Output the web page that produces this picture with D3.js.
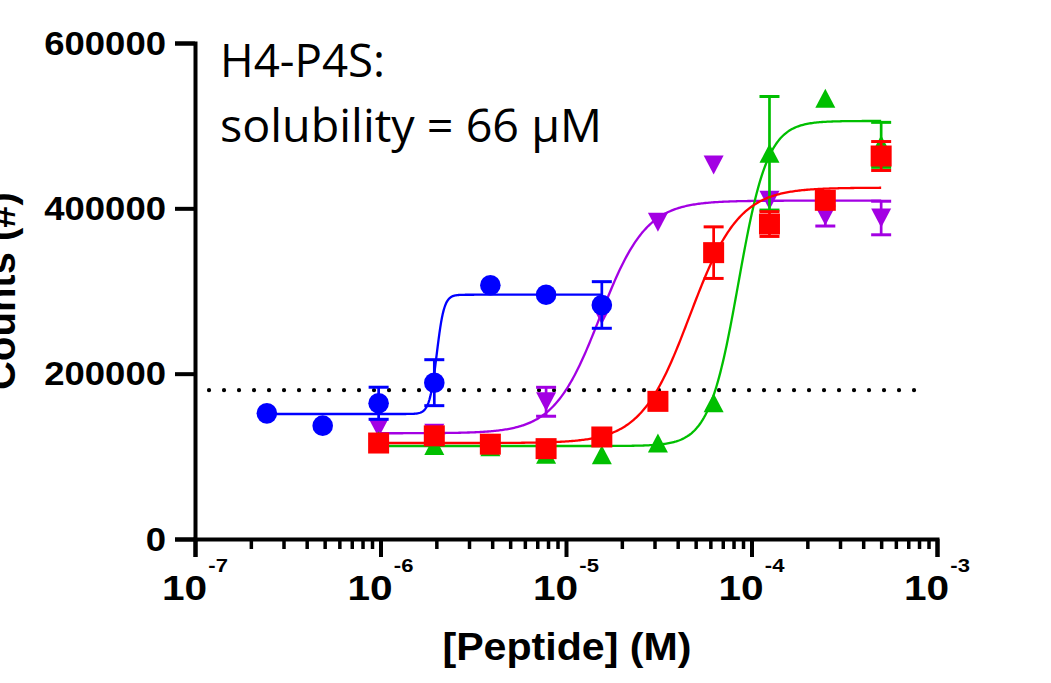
<!DOCTYPE html>
<html>
<head>
<meta charset="utf-8">
<script src="https://cdn.jsdelivr.net/npm/d3@7"></script>
<style>
  html, body { margin: 0; padding: 0; background: #ffffff; }
  svg { display: block; }
</style>
</head>
<body>
<svg id="chart" width="1051" height="683"></svg>
<script>
// Peptide concentrations (M), two-fold dilution series
const concentrations = [2.44e-7, 4.88e-7, 9.77e-7, 1.95e-6, 3.91e-6, 7.81e-6, 1.56e-5, 3.13e-5, 6.25e-5, 1.25e-4, 2.5e-4, 5e-4];

// Mean counts per concentration (null = not measured) and SD (0 = no bar shown)
const blueCounts   = [152000, 137100, 164200, 189100, 306900, 295500, 283100, null, null, null, null, null];
const blueSd       = [0, 0, 19400, 27800, 0, 0, 28200, 0, 0, 0, 0, 0];
const purpleCounts = [null, null, 134300, 128000, 115000, 166000, 271000, 383300, 452400, 409700, 390700, 388300];
const purpleSd     = [0, 0, 0, 0, 0, 17500, 0, 0, 0, 0, 12100, 20300];
const redCounts    = [null, null, 116100, 124800, 114700, 109300, 123400, 166500, 346400, 381000, 409700, 463300];
const redSd        = [0, 0, 0, 0, 0, 0, 0, 0, 31200, 15000, 0, 17500];
const greenCounts  = [null, null, 118900, 113000, 111700, 102500, 101800, 116100, 164700, 466600, 533100, 476800];
const greenSd      = [0, 0, 0, 0, 0, 0, 0, 0, 0, 68700, 0, 27200];

// Four-parameter logistic fits: blue, purple, red, green
const fitBottom  = [151200, 127900, 116100, 112500];
const fitTop     = [295500, 409300, 425000, 505700];
const fitLogEC50 = [-5.697, -4.817, -4.332, -4.071];
const fitHill    = [22, 3.5, 3.3, 5.5];
const fitFrom    = [2.44e-7, 9.77e-7, 9.77e-7, 9.77e-7];
const fitTo      = [1.56e-5, 5e-4, 5e-4, 5e-4];

// Solubility threshold line
const thresholdCounts = 180000;
const thresholdExtent = [1.19e-7, 8.4e-4];

// Axis ticks and labels
const xMajorTicks = [1e-7, 1e-6, 1e-5, 1e-4, 1e-3];
const xExponents = ["-7", "-6", "-5", "-4", "-3"];
const yTicks = [0, 200000, 400000, 600000];
const titleLines = ["H4-P4S:", "solubility = 66 \u03BCM"];
const xTitle = "[Peptide] (M)";
const yTitle = "Counts (#)";

const svg = d3.select("#chart");

const x = d3.scaleLog().domain([1e-7, 1e-3]).range([195, 937]);
const y = d3.scaleLinear().domain([0, 600000]).range([539, 43]);

// Minor ticks 2..9 within each decade
const xMinorTicks = [];
for (let i = 0; i < xMajorTicks.length - 1; i++) {
  for (let m = 2; m <= 9; m++) xMinorTicks.push(xMajorTicks[i] * m);
}

const axisColor = "#000000";

// X axis: major ticks with domain end ticks
const xAxisG = svg.append("g").attr("transform", "translate(0,539)")
  .call(d3.axisBottom(x).tickValues(xMajorTicks).tickSize(18).tickSizeOuter(18).tickFormat(""));
const xMinorG = svg.append("g").attr("transform", "translate(0,539)")
  .call(d3.axisBottom(x).tickValues(xMinorTicks).tickSize(10).tickSizeOuter(0).tickFormat(""));
xMinorG.select(".domain").remove();

// Y axis
const yAxisG = svg.append("g").attr("transform", "translate(195,0)")
  .call(d3.axisLeft(y).tickValues(yTicks).tickSize(20).tickSizeOuter(20).tickFormat(""));

[xAxisG, xMinorG, yAxisG].forEach(g => {
  g.select(".domain").attr("stroke", axisColor).attr("stroke-width", 4)
    .attr("stroke-linejoin", "miter").attr("fill", "none");
  g.selectAll(".tick line").attr("stroke", axisColor).attr("stroke-width", 4);
});
xMinorG.selectAll(".tick line").attr("stroke-width", 3.5);

// Y tick labels
svg.append("g").selectAll("text").data(yTicks).join("text")
  .attr("x", 166)
  .attr("y", d => y(d) + 11.7)
  .attr("text-anchor", "end")
  .attr("font-family", "'Liberation Sans', Arial, sans-serif")
  .attr("font-weight", "bold")
  .attr("font-size", 32.5)
  .attr("textLength", d => String(d).length * 20.3)
  .attr("lengthAdjust", "spacingAndGlyphs")
  .attr("fill", "#000")
  .text(d => String(d));

// X tick labels: 10 with superscript exponent, slightly widened
const xLab = svg.append("g").selectAll("g").data(xMajorTicks).join("g")
  .attr("transform", d => `translate(${x(d)},600) scale(1.16,1)`)
  .append("text")
  .attr("x", 0)
  .attr("y", 0)
  .attr("text-anchor", "middle")
  .attr("font-family", "'Liberation Sans', Arial, sans-serif")
  .attr("font-weight", "bold")
  .attr("font-size", 35)
  .attr("fill", "#000");
xLab.append("tspan").text("10");
xLab.append("tspan").attr("font-size", 19).attr("dx", 1).attr("dy", -28.3).text((d, i) => xExponents[i]);

// Axis titles
svg.append("text")
  .attr("x", 567).attr("y", 660)
  .attr("text-anchor", "middle")
  .attr("font-family", "'Liberation Sans', Arial, sans-serif")
  .attr("font-weight", "bold")
  .attr("font-size", 39)
  .attr("textLength", 249)
  .attr("lengthAdjust", "spacingAndGlyphs")
  .text(xTitle);

svg.append("text")
  .attr("transform", "translate(15,291) rotate(-90)")
  .attr("text-anchor", "middle")
  .attr("font-family", "'Liberation Sans', Arial, sans-serif")
  .attr("font-weight", "bold")
  .attr("font-size", 40)
  .text(yTitle);

// Annotation
svg.append("g").selectAll("text").data(titleLines).join("text")
  .attr("x", 220)
  .attr("y", (d, i) => [77.3, 142][i])
  .attr("font-family", "'Open Sans', sans-serif")
  .attr("font-size", 45)
  .attr("textLength", (d, i) => [165, 382][i])
  .attr("lengthAdjust", "spacingAndGlyphs")
  .attr("fill", "#000")
  .text(d => d);

// Dotted threshold line
svg.append("line")
  .attr("x1", x(thresholdExtent[0])).attr("x2", x(thresholdExtent[1]))
  .attr("y1", y(thresholdCounts)).attr("y2", y(thresholdCounts))
  .attr("stroke", "#000").attr("stroke-width", 4.2)
  .attr("stroke-linecap", "round")
  .attr("stroke-dasharray", "0 15");

// Series definitions, drawn back to front
const series = [
  { counts: purpleCounts, sd: purpleSd, color: "#A300E3", shape: "down", fit: 1 },
  { counts: greenCounts,  sd: greenSd,  color: "#00BF00", shape: "up",   fit: 3 },
  { counts: redCounts,    sd: redSd,    color: "#FF0000", shape: "square", fit: 2 },
  { counts: blueCounts,   sd: blueSd,   color: "#0000FF", shape: "circle", fit: 0 }
];

function logistic(k, c) {
  const lc = Math.log10(c);
  return fitBottom[k] + (fitTop[k] - fitBottom[k]) / (1 + Math.pow(10, fitHill[k] * (fitLogEC50[k] - lc)));
}

const line = d3.line().x(d => x(d[0])).y(d => y(d[1]));

series.forEach(s => {
  const g = svg.append("g");
  const k = s.fit;
  // fitted curve sampled over the measured range
  const lo = Math.log10(fitFrom[k]), hi = Math.log10(fitTo[k]);
  const pts = d3.range(0, 401).map(i => {
    const c = Math.pow(10, lo + (hi - lo) * i / 400);
    return [c, logistic(k, c)];
  });
  g.append("path").attr("d", line(pts))
    .attr("fill", "none").attr("stroke", s.color).attr("stroke-width", 2.3);

  const pts2 = concentrations.map((c, i) => ({ c, v: s.counts[i], sd: s.sd[i] }))
    .filter(d => d.v !== null);

  // error bars
  pts2.filter(d => d.sd > 0).forEach(d => {
    const cx = x(d.c), y1 = y(d.v + d.sd), y2 = y(d.v - d.sd);
    g.append("line").attr("x1", cx).attr("x2", cx).attr("y1", y1).attr("y2", y2)
      .attr("stroke", s.color).attr("stroke-width", 2.7);
    [y1, y2].forEach(yy => {
      g.append("line").attr("x1", cx - 10).attr("x2", cx + 10).attr("y1", yy).attr("y2", yy)
        .attr("stroke", s.color).attr("stroke-width", 3);
    });
  });

  // markers
  pts2.forEach(d => {
    const cx = x(d.c), cy = y(d.v);
    if (s.shape === "circle") {
      g.append("circle").attr("cx", cx).attr("cy", cy).attr("r", 10.3).attr("fill", s.color);
    } else if (s.shape === "square") {
      g.append("rect").attr("x", cx - 10.5).attr("y", cy - 10.5).attr("width", 21).attr("height", 21).attr("fill", s.color);
    } else if (s.shape === "up") {
      g.append("path").attr("d", `M${cx},${cy - 9.5}L${cx + 10},${cy + 9.5}L${cx - 10},${cy + 9.5}Z`).attr("fill", s.color);
    } else {
      g.append("path").attr("d", `M${cx - 10},${cy - 9.5}L${cx + 10},${cy - 9.5}L${cx},${cy + 9.5}Z`).attr("fill", s.color);
    }
  });
});
</script>
</body>
</html>
